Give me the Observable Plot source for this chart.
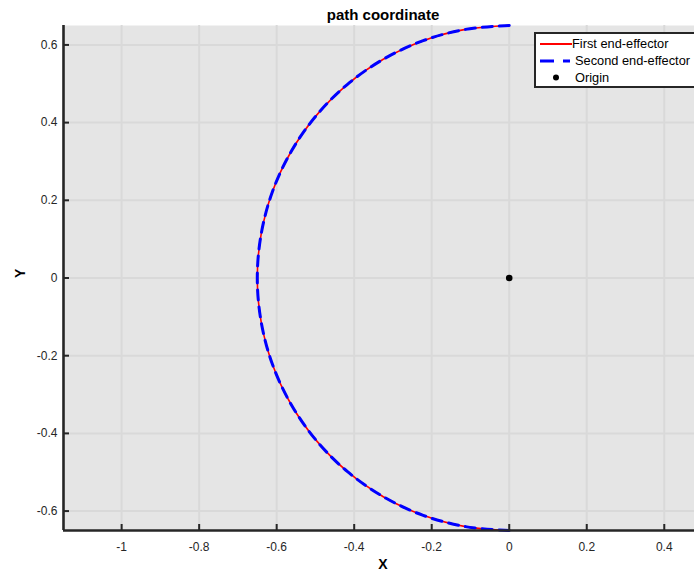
<!DOCTYPE html>
<html>
<head>
<meta charset="utf-8">
<script src="https://cdn.jsdelivr.net/npm/d3@7"></script>
<script src="https://cdn.jsdelivr.net/npm/@observablehq/plot@0.6"></script>
<style>
  body { margin: 0; background: #fff; font-family: "Liberation Sans", Arial, sans-serif; }
  #wrap { position: relative; width: 694px; height: 576px; overflow: hidden; }
  #legend { position: absolute; left: 534px; top: 32px; width: 158px; height: 52px;
    background: #fff; border: 2px solid #262626; font-size: 12.8px; color: #000; }
  .row { position: absolute; left: 0; height: 17px; line-height: 17px; white-space: nowrap; }
  .row svg { position: absolute; left: 3px; top: 0; }
  .row span { position: absolute; }
</style>
</head>
<body>
<div id="wrap"></div>
<script>
// Path samples (semicircle of radius ~0.65 on the left)
const pathX = [0, -0.113, -0.222, -0.325, -0.418, -0.498, -0.563, -0.611, -0.640, -0.650,
               -0.640, -0.611, -0.563, -0.498, -0.418, -0.325, -0.222, -0.113, 0];
const pathY = [0.650, 0.640, 0.611, 0.563, 0.498, 0.418, 0.325, 0.222, 0.113, 0,
               -0.113, -0.222, -0.325, -0.418, -0.498, -0.563, -0.611, -0.640, -0.650];
const originX = [0];
const originY = [0];
const xTicks = [-1, -0.8, -0.6, -0.4, -0.2, 0, 0.2, 0.4];
const yTicks = [-0.6, -0.4, -0.2, 0, 0.2, 0.4, 0.6];
const xDomain = [-1.15, 0.478];
const yDomain = [-0.65, 0.65];
const seriesNames = ["First end-effector", "Second end-effector", "Origin"];

const pts = pathX.map((x, i) => ({x, y: pathY[i]}));
const origin = originX.map((x, i) => ({x, y: originY[i]}));
const fmt = d => d === 0 ? "0" : String(d);

const W = 694, H = 576, mt = 25, mb = 46, ml = 63, mr = 0;
const plotH = H - mt - mb, plotW = W - ml - mr;

const chart = Plot.plot({
  width: W, height: H,
  marginTop: mt, marginBottom: mb, marginLeft: ml, marginRight: mr,
  style: {fontFamily: "'Liberation Sans', Arial, sans-serif", background: "#fff", overflow: "visible"},
  x: {domain: xDomain, label: null},
  y: {domain: yDomain, label: null},
  marks: [
    Plot.frame({fill: "#e5e5e5", stroke: null}),
    Plot.gridX(xTicks, {stroke: "#d9d9d9", strokeOpacity: 1, strokeWidth: 2}),
    Plot.gridY(yTicks, {stroke: "#d9d9d9", strokeOpacity: 1, strokeWidth: 2}),
    Plot.line(pts, {x: "x", y: "y", stroke: "#ff0000", strokeWidth: 1.6, curve: "catmull-rom"}),
    Plot.line(pts, {x: "x", y: "y", stroke: "#0000ff", strokeWidth: 3, strokeDasharray: "10,7", curve: "catmull-rom"}),
    Plot.dot(origin, {x: "x", y: "y", r: 3.3, fill: "#000", stroke: null}),
    Plot.tickX(xTicks, {x: d => d, stroke: "#262626", strokeWidth: 2, insetTop: plotH - 6}),
    Plot.tickY(yTicks, {y: d => d, stroke: "#262626", strokeWidth: 2, insetRight: plotW - 6}),
    Plot.ruleY([yDomain[0]], {stroke: "#262626", strokeWidth: 2.6}),
    Plot.ruleX([xDomain[0]], {stroke: "#262626", strokeWidth: 2.6}),
    Plot.axisX(xTicks, {tickSize: 0, tickPadding: 12, tickFormat: fmt, fontSize: 12, fill: "#262626", label: null}),
    Plot.axisY(yTicks, {tickSize: 0, tickPadding: 6, tickFormat: fmt, fontSize: 12, fill: "#262626", label: null}),
    Plot.text(["path coordinate"], {frameAnchor: "top", dy: -16, dx: 4, fontSize: 15, fontWeight: "bold", fill: "#000"}),
    Plot.text(["X"], {frameAnchor: "bottom", dy: 38, dx: 4, fontSize: 14, fontWeight: "bold", fill: "#000"}),
    Plot.text(["Y"], {frameAnchor: "left", dx: -43, rotate: -90, fontSize: 14, fontWeight: "bold", fill: "#000"})
  ]
});
document.getElementById("wrap").appendChild(chart);

const legend = document.createElement("div");
legend.id = "legend";
legend.innerHTML = `
  <div class="row" style="top:1px;width:154px">
    <svg width="34" height="17"><line x1="1" x2="33" y1="9" y2="9" stroke="#ff0000" stroke-width="2"/></svg>
    <span style="left:36px">${seriesNames[0]}</span>
  </div>
  <div class="row" style="top:18px;width:154px">
    <svg width="34" height="17"><line x1="1" x2="31" y1="9" y2="9" stroke="#0000ff" stroke-width="3" stroke-dasharray="14,9"/></svg>
    <span style="left:39px">${seriesNames[1]}</span>
  </div>
  <div class="row" style="top:35px;width:154px">
    <svg width="34" height="17"><circle cx="17" cy="8.5" r="3" fill="#000"/></svg>
    <span style="left:39px">${seriesNames[2]}</span>
  </div>`;
document.getElementById("wrap").appendChild(legend);
</script>
</body>
</html>
